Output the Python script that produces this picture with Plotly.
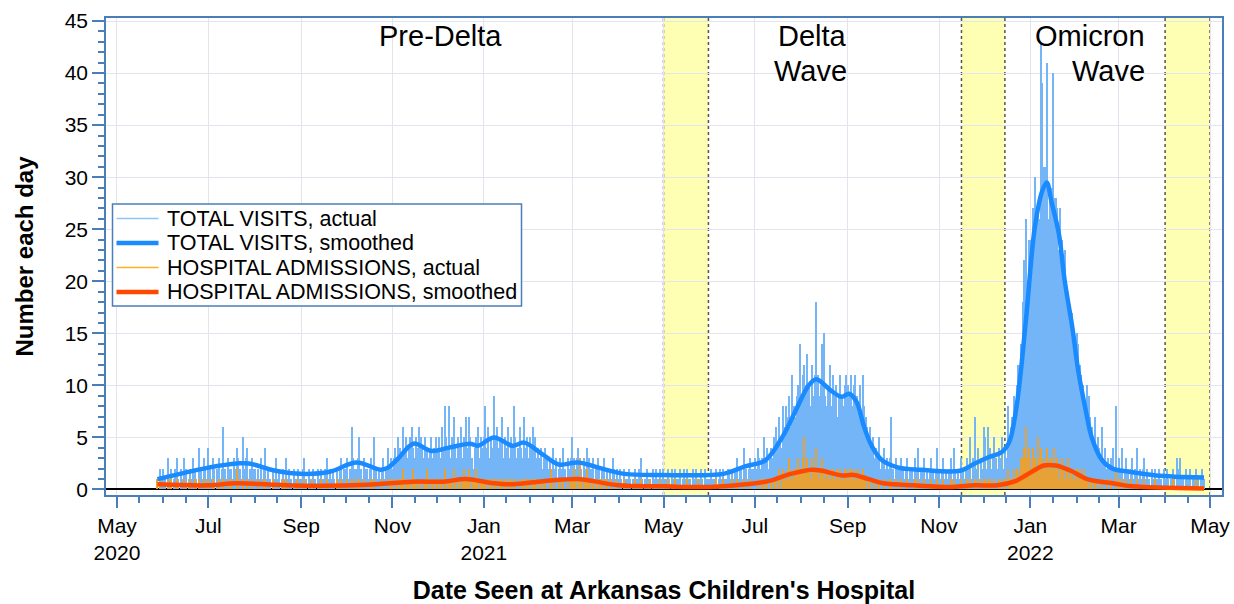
import pandas as pd
import plotly.graph_objects as go

# ---------------- data (daily counts) ----------------
visits_2020 = [
    1, 0, 2, 1,  # May 28-31
    2, 1, 0, 3, 1, 2, 0, 1, 2, 3, 1, 0, 2, 1, 3, 2, 0, 1, 2, 1, 3, 2, 1, 0, 4, 2, 1, 3, 2, 1,  # Jun
    4, 2, 1, 3, 2, 0, 2, 3, 1, 2, 6, 2, 1, 3, 2, 2, 1, 3, 2, 4, 3, 2, 1, 5, 2, 3, 4, 1, 2, 3, 2,  # Jul
    2, 1, 2, 1, 3, 1, 2, 4, 1, 2, 1, 0, 2, 1, 3, 1, 2, 0, 1, 2, 1, 3, 1, 2, 1, 0, 2, 1, 1, 2, 1,  # Aug
    1, 2, 3, 1, 0, 2, 1, 1, 2, 1, 0, 2, 1, 2, 1, 1, 2, 3, 1, 2, 1, 2, 1, 0, 2, 1, 2, 3, 1, 2,  # Sep
    2, 3, 1, 2, 6, 3, 2, 2, 3, 5, 2, 1, 3, 2, 2, 1, 2, 3, 1, 5, 2, 1, 2, 1, 2, 3, 1, 2, 4, 2, 3,  # Oct
    2, 3, 4, 3, 5, 4, 3, 6, 4, 5, 3, 4, 5, 6, 4, 3, 5, 4, 6, 5, 4, 3, 5, 4, 3, 4, 5, 3, 4, 5,  # Nov
    4, 5, 3, 6, 4, 8, 5, 4, 8, 3, 5, 7, 4, 3, 5, 4, 6, 3, 5, 7, 4, 7, 5, 3, 2, 4, 5, 6, 3, 5, 4,  # Dec
]
admits_2020 = [
    1, 0, 1, 0,
    0, 0, 0, 1, 0, 1, 0, 0, 0, 1, 0, 0, 0, 0, 1, 0, 0, 0, 1, 0, 0, 1, 0, 0, 1, 0, 0, 1, 0, 0,
    1, 0, 0, 1, 0, 0, 0, 1, 0, 0, 1, 0, 0, 1, 0, 1, 0, 0, 0, 2, 1, 0, 0, 1, 0, 0, 1, 0, 0, 1, 0,
    0, 0, 1, 0, 0, 0, 1, 1, 0, 0, 0, 0, 1, 0, 0, 0, 0, 0, 0, 1, 0, 1, 0, 0, 0, 0, 0, 0, 1, 0, 0,
    0, 0, 1, 0, 0, 0, 0, 1, 0, 0, 0, 0, 0, 1, 0, 0, 0, 1, 0, 0, 0, 0, 0, 0, 1, 0, 0, 1, 0, 0,
    0, 1, 0, 0, 1, 0, 0, 1, 0, 1, 0, 0, 1, 0, 0, 0, 0, 1, 0, 1, 0, 0, 0, 0, 1, 0, 0, 0, 1, 0, 1,
    0, 1, 0, 1, 1, 0, 1, 2, 1, 0, 1, 1, 0, 1, 2, 1, 0, 1, 1, 0, 1, 0, 1, 2, 0, 1, 0, 1, 1, 0,
    1, 0, 1, 1, 0, 2, 1, 0, 1, 1, 0, 2, 1, 0, 1, 1, 0, 1, 2, 1, 1, 2, 1, 0, 1, 1, 2, 1, 0, 1, 1,
]
visits_2021 = [
    5, 8, 4, 6, 3, 5, 4, 9, 5, 6, 4, 5, 7, 3, 5, 4, 6, 3, 5, 4, 8, 5, 3, 4, 6, 4, 3, 7, 4, 5, 3,  # Jan
    5, 4, 6, 5, 3, 4, 3, 4, 2, 3, 4, 3, 2, 3, 2, 4, 2, 3, 1, 2, 3, 2, 4, 2, 1, 3, 2, 3,  # Feb
    5, 3, 2, 3, 4, 3, 2, 1, 3, 2, 4, 3, 2, 2, 3, 1, 2, 3, 2, 1, 2, 3, 1, 2, 1, 2, 1, 3, 2, 1, 2,  # Mar
    1, 2, 1, 0, 2, 1, 1, 2, 1, 0, 1, 2, 1, 1, 2, 3, 1, 0, 1, 2, 1, 1, 0, 2, 1, 2, 1, 1, 2, 1,  # Apr
    2, 1, 1, 2, 1, 0, 2, 1, 2, 1, 1, 2, 0, 1, 2, 1, 2, 1, 1, 0, 2, 1, 2, 1, 1, 2, 1, 0, 2, 1, 1,  # May
    1, 2, 1, 1, 2, 0, 1, 2, 1, 2, 1, 1, 2, 2, 1, 2, 1, 2, 3, 1, 2, 2, 1, 4, 2, 1, 2, 3, 2, 2,  # Jun
    3, 2, 4, 3, 2, 3, 5, 3, 4, 2, 3, 4, 3, 5, 6, 4, 7, 5, 4, 8, 6, 8, 7, 9, 6, 11, 8, 7, 9, 10, 14,  # Jul
    9, 11, 12, 10, 13, 10, 8, 12, 9, 11, 18, 11, 9, 10, 14, 15, 9, 8, 10, 12, 8, 11, 9, 10, 7, 9, 11, 9, 8, 10, 11,  # Aug
    10, 9, 11, 8, 10, 11, 9, 8, 10, 7, 11, 8, 7, 6, 5, 6, 4, 5, 3, 4, 3, 5, 2, 3, 4, 2, 3, 2, 3, 7,  # Sep
    2, 1, 3, 2, 2, 1, 3, 2, 1, 2, 3, 1, 2, 2, 1, 3, 2, 4, 1, 2, 2, 3, 1, 2, 1, 2, 3, 2, 1, 2, 4,  # Oct
    2, 1, 2, 3, 1, 2, 1, 2, 3, 1, 4, 2, 1, 2, 1, 3, 2, 1, 2, 3, 2, 5, 1, 3, 7, 2, 4, 1, 3, 2,  # Nov
    6, 5, 2, 6, 4, 2, 3, 5, 3, 2, 4, 3, 5, 2, 4, 3, 8, 5, 6, 7, 9, 8, 10, 12, 11, 14, 18, 22, 26, 20, 24,  # Dec
]
admits_2021 = [
    1, 1, 0, 1, 0, 1, 0, 1, 1, 0, 0, 1, 1, 0, 1, 0, 1, 0, 1, 0, 1, 1, 0, 0, 1, 0, 1, 1, 0, 1, 0,
    1, 0, 1, 1, 0, 1, 0, 1, 0, 1, 1, 0, 0, 1, 2, 0, 1, 0, 0, 1, 0, 1, 1, 0, 0, 1, 0, 1,
    1, 2, 1, 0, 1, 3, 1, 0, 1, 1, 2, 1, 0, 1, 1, 0, 1, 1, 0, 1, 0, 1, 0, 1, 0, 0, 1, 0, 0, 1, 0,
    0, 0, 0, 0, 1, 0, 0, 0, 0, 0, 0, 1, 0, 0, 0, 1, 0, 0, 0, 0, 0, 1, 0, 0, 0, 0, 0, 0, 1, 0,
    0, 0, 0, 1, 0, 0, 0, 0, 1, 0, 0, 0, 0, 0, 0, 0, 1, 0, 0, 0, 0, 0, 0, 1, 0, 0, 0, 0, 0, 0, 0,
    0, 0, 0, 0, 1, 0, 0, 0, 0, 1, 0, 0, 0, 0, 0, 1, 0, 0, 1, 0, 0, 0, 0, 1, 0, 0, 0, 1, 0, 0,
    0, 0, 1, 0, 0, 1, 1, 0, 1, 0, 0, 1, 0, 1, 1, 0, 2, 1, 0, 2, 1, 1, 2, 3, 1, 2, 1, 2, 2, 3, 2,
    2, 3, 5, 2, 3, 2, 1, 3, 2, 2, 4, 2, 1, 2, 3, 2, 1, 2, 1, 2, 1, 2, 1, 1, 2, 1, 2, 1, 1, 2, 1,
    2, 1, 2, 1, 2, 1, 1, 2, 1, 1, 2, 1, 1, 0, 1, 0, 1, 0, 0, 1, 0, 1, 0, 0, 1, 0, 0, 0, 1, 1,
    0, 0, 1, 0, 0, 0, 1, 0, 0, 0, 1, 0, 0, 0, 0, 1, 0, 1, 0, 0, 0, 1, 0, 0, 0, 0, 1, 0, 0, 0, 1,
    0, 0, 0, 1, 0, 0, 0, 0, 1, 0, 1, 0, 0, 0, 0, 1, 0, 0, 0, 1, 0, 1, 0, 0, 1, 0, 1, 0, 0, 1,
    0, 1, 0, 1, 1, 0, 0, 1, 0, 0, 1, 0, 1, 0, 1, 0, 2, 1, 1, 1, 2, 1, 2, 2, 1, 3, 3, 4, 6, 3, 4,
]
visits_2022 = [
    24, 21, 27, 30, 27, 27, 26, 43, 39, 31, 31, 41, 26, 29, 29, 40, 28, 28, 27, 23,
    27, 24, 21, 23, 20, 19, 18, 16, 17, 14, 13,  # Jan
    15, 14, 12, 11, 10, 9, 8, 10, 9, 7, 6, 5, 7, 4, 5, 4, 3, 6, 3, 4, 2, 3, 2, 3, 4, 2, 8, 2,  # Feb
    3, 2, 4, 1, 2, 3, 2, 1, 2, 3, 1, 2, 4, 1, 2, 1, 2, 3, 1, 2, 1, 0, 2, 1, 2, 1, 1, 2, 1, 0, 2,  # Mar
    1, 2, 1, 0, 1, 2, 1, 0, 3, 2, 3, 1, 1, 0, 2, 1, 1, 2, 0, 1, 1, 2, 1, 0, 1, 2, 1,  # Apr 1-27
]
admits_2022 = [
    3, 2, 4, 3, 2, 5, 3, 4, 2, 3, 2, 4, 3, 2, 3, 2, 4, 2, 3, 1, 2, 3, 2, 1, 2, 3, 1, 2, 1, 2, 1,
    2, 1, 2, 1, 1, 2, 1, 1, 0, 1, 1, 0, 1, 0, 1, 0, 0, 1, 0, 0, 1, 0, 0, 1, 0, 0, 2, 0,
    1, 0, 1, 0, 0, 1, 0, 0, 1, 0, 0, 0, 1, 0, 0, 0, 0, 1, 0, 0, 0, 0, 0, 0, 1, 0, 0, 0, 0, 0, 0,
    0, 0, 0, 0, 0, 1, 0, 0, 0, 0, 0, 0, 0, 0, 0, 0, 0, 0, 0, 0, 0, 1, 0, 0, 0, 0, 0,
]

# smoothed curves (read at selected dates)
visits_smooth_dates = [
    "2020-05-28", "2020-06-15", "2020-07-01", "2020-07-20", "2020-07-28", "2020-08-15",
    "2020-09-01", "2020-09-20", "2020-10-08", "2020-10-24", "2020-10-29", "2020-11-05",
    "2020-11-15", "2020-11-27", "2020-12-08", "2020-12-23", "2020-12-28", "2021-01-08",
    "2021-01-20", "2021-01-28", "2021-02-09", "2021-02-20", "2021-03-05", "2021-03-21",
    "2021-04-05", "2021-05-01", "2021-06-10", "2021-06-24", "2021-07-08", "2021-07-20",
    "2021-07-28", "2021-08-06", "2021-08-11", "2021-08-20", "2021-08-28", "2021-09-02",
    "2021-09-07", "2021-09-12", "2021-09-17", "2021-09-24", "2021-10-05", "2021-10-20",
    "2021-11-15", "2021-11-25", "2021-12-04", "2021-12-13", "2021-12-18", "2021-12-23",
    "2021-12-29", "2022-01-04", "2022-01-09", "2022-01-12", "2022-01-15", "2022-01-20",
    "2022-01-24", "2022-01-29", "2022-02-02", "2022-02-07", "2022-02-11", "2022-02-18",
    "2022-02-25", "2022-03-08", "2022-03-26", "2022-04-27",
]
visits_smooth = [
    1.0, 1.6, 2.1, 2.5, 2.5, 1.8,
    1.5, 1.7, 2.6, 1.9, 2.1, 3.0,
    4.4, 3.7, 4.0, 4.4, 4.2, 5.0,
    4.2, 4.5, 3.4, 2.4, 2.6, 2.0,
    1.5, 1.4, 1.5, 2.2, 2.8, 5.2,
    7.5, 10.0, 10.6, 9.6, 8.9, 9.2,
    8.4, 6.0, 4.2, 2.8, 2.1, 1.9,
    1.8, 2.5, 3.1, 3.6, 4.6, 8.2,
    16.2, 25.2, 28.7, 29.5, 27.7, 24.6,
    20.0, 15.6, 11.4, 7.6, 5.0, 2.8,
    2.0, 1.7, 1.35, 1.15,
]
admits_smooth_dates = [
    "2020-05-28", "2020-07-01", "2020-07-20", "2020-08-15", "2020-09-15", "2020-10-15",
    "2020-11-15", "2020-12-05", "2020-12-20", "2021-01-05", "2021-01-20", "2021-02-10",
    "2021-03-05", "2021-03-15", "2021-04-01", "2021-05-01", "2021-06-01", "2021-06-25",
    "2021-07-10", "2021-07-25", "2021-08-08", "2021-08-15", "2021-08-28", "2021-09-05",
    "2021-09-15", "2021-09-25", "2021-10-15", "2021-11-10", "2021-11-25", "2021-12-10",
    "2021-12-22", "2022-01-02", "2022-01-10", "2022-01-18", "2022-01-28", "2022-02-08",
    "2022-02-25", "2022-03-10", "2022-04-27",
]
admits_smooth = [
    0.5, 0.4, 0.6, 0.45, 0.35, 0.45,
    0.75, 0.75, 1.0, 0.65, 0.5, 0.8,
    1.0, 0.8, 0.4, 0.3, 0.25, 0.5,
    0.8, 1.5, 1.9, 1.8, 1.35, 1.4,
    1.0, 0.6, 0.4, 0.25, 0.4, 0.4,
    0.8, 1.7, 2.3, 2.3, 1.8, 1.0,
    0.6, 0.3, 0.1,
]

# shaded periods between waves
band_starts = ["2021-05-01", "2021-11-16", "2022-04-01"]
band_ends = ["2021-05-31", "2021-12-15", "2022-05-01"]

tick_dates = ["2020-05-01", "2020-07-01", "2020-09-01", "2020-11-01", "2021-01-01", "2021-03-01",
              "2021-05-01", "2021-07-01", "2021-09-01", "2021-11-01", "2022-01-01", "2022-03-01",
              "2022-05-01"]
tick_labels = ["May<br>2020", "Jul", "Sep", "Nov", "Jan<br>2021", "Mar", "May", "Jul", "Sep", "Nov",
               "Jan<br>2022", "Mar", "May"]

legend_names = ["TOTAL VISITS, actual", "TOTAL VISITS, smoothed",
                "HOSPITAL ADMISSIONS, actual", "HOSPITAL ADMISSIONS, smoothed"]

# ---------------- build ----------------
dates = (list(pd.date_range("2020-05-28", periods=len(visits_2020), freq="D"))
         + list(pd.date_range("2021-01-01", periods=len(visits_2021), freq="D"))
         + list(pd.date_range("2022-01-01", periods=len(visits_2022), freq="D")))
visits = visits_2020 + visits_2021 + visits_2022
admits = admits_2020 + admits_2021 + admits_2022
adates = (list(pd.date_range("2020-05-28", periods=len(admits_2020), freq="D"))
          + list(pd.date_range("2021-01-01", periods=len(admits_2021), freq="D"))
          + list(pd.date_range("2022-01-01", periods=len(admits_2022), freq="D")))

FONT = "Liberation Sans, Arial, sans-serif"
AXIS = "#4a7ebb"
BLUE_BAR = "#74b5f8"
BLUE_LINE = "#1a8aff"
ORANGE_BAR = "#e6a236"
ORANGE_LINE = "#ff4800"
DAY = 86400000

# plot-area geometry in pixels (for the hand-made legend box)
W, H = 1234, 604
ML, MR, MT, MB = 106, 12, 18, 109
PW, PH = W - ML - MR, H - MT - MB


def px(x):
    return (x - ML) / PW


def py(y):
    return (H - MB - y) / PH


fig = go.Figure()
fig.add_trace(go.Bar(x=dates, y=visits, width=DAY * 0.78, marker=dict(color=BLUE_BAR, line=dict(width=0)),
                     name=legend_names[0], showlegend=False))
fig.add_trace(go.Bar(x=adates, y=admits, width=DAY * 0.78, marker=dict(color=ORANGE_BAR, line=dict(width=0)),
                     name=legend_names[2], showlegend=False))
fig.add_trace(go.Scatter(x=pd.to_datetime(visits_smooth_dates), y=visits_smooth, mode="lines",
                         line=dict(color=BLUE_LINE, width=4.5, shape="spline", smoothing=1.0),
                         name=legend_names[1], showlegend=False))
fig.add_trace(go.Scatter(x=pd.to_datetime(admits_smooth_dates), y=admits_smooth, mode="lines",
                         line=dict(color=ORANGE_LINE, width=4.5, shape="spline", smoothing=1.0),
                         name=legend_names[3], showlegend=False))

shapes = []
for s, e in zip(band_starts, band_ends):
    shapes.append(dict(type="rect", xref="x", yref="paper", x0=s, x1=e, y0=0, y1=1,
                       fillcolor="#ffffb4", line=dict(width=0), layer="below"))
    for xv in (s, e):
        shapes.append(dict(type="line", xref="x", yref="paper", x0=xv, x1=xv, y0=0, y1=1,
                           line=dict(color="#555555", width=1.5, dash="dot"), layer="below"))

ann_font = dict(family=FONT, size=29, color="black")
annotations = [
    dict(x="2020-12-03", y=43.6, text="Pre-Delta", xanchor="center", yanchor="middle"),
    dict(x="2021-09-02", y=43.6, text="Delta", xanchor="right", yanchor="middle"),
    dict(x="2021-09-02", y=40.2, text="Wave", xanchor="right", yanchor="middle"),
    dict(x="2022-03-20", y=43.6, text="Omicron", xanchor="right", yanchor="middle"),
    dict(x="2022-03-20", y=40.2, text="Wave", xanchor="right", yanchor="middle"),
]
for a in annotations:
    a.update(xref="x", yref="y", showarrow=False, font=ann_font)

# legend box (drawn with shapes + text so the row spacing matches)
shapes.append(dict(type="rect", xref="paper", yref="paper", x0=px(112.5), x1=px(521.5), y0=py(204), y1=py(306),
                   fillcolor="white", line=dict(color=AXIS, width=1.5), layer="above"))
leg_colors = ["#8cc6f7", BLUE_LINE, "#ffb020", ORANGE_LINE]
leg_widths = [1.5, 4.5, 1.5, 4.5]
leg_rows = [218.5, 243, 267.5, 292]
for name, col, lw, ry in zip(legend_names, leg_colors, leg_widths, leg_rows):
    shapes.append(dict(type="line", xref="paper", yref="paper", x0=px(116.5), x1=px(158.5),
                       y0=py(ry), y1=py(ry), line=dict(color=col, width=lw), layer="above"))
    annotations.append(dict(xref="paper", yref="paper", x=px(165), y=py(ry), text=name,
                            xanchor="left", yanchor="middle", showarrow=False,
                            font=dict(family=FONT, size=21.5, color="black")))

minor_ticks = []
for m in pd.date_range("2020-04-01", "2022-05-01", freq="MS"):
    minor_ticks.append(m)
    minor_ticks.append(m + pd.Timedelta(days=15))

fig.update_layout(
    width=W, height=H, autosize=False,
    margin=dict(l=ML, r=MR, t=MT, b=MB),
    paper_bgcolor="white", plot_bgcolor="white",
    barmode="overlay", bargap=0,
    font=dict(family=FONT, size=21, color="black"),
    shapes=shapes, annotations=annotations,
    showlegend=False,
    xaxis=dict(
        type="date", range=["2020-04-23 16:00", "2022-05-09"], automargin=False,
        tickmode="array", tickvals=tick_dates, ticktext=tick_labels,
        ticks="outside", ticklen=11, tickwidth=1.5, tickcolor=AXIS,
        showline=True, linecolor=AXIS, linewidth=1.5, mirror=True,
        showgrid=True, gridcolor="#e4e4ee", gridwidth=1,
        minor=dict(tickmode="array", tickvals=minor_ticks, ticks="outside", ticklen=6,
                   tickwidth=1.5, tickcolor=AXIS, showgrid=False),
        tickfont=dict(family=FONT, size=21),
        title=dict(text="<b>Date Seen at Arkansas Children's Hospital</b>",
                   font=dict(family=FONT, size=25), standoff=22),
        zeroline=False,
    ),
    yaxis=dict(
        range=[-0.53, 45.29], tickmode="linear", tick0=0, dtick=5, automargin=False,
        ticks="outside", ticklen=12, tickwidth=1.5, tickcolor=AXIS,
        showline=True, linecolor=AXIS, linewidth=1.5, mirror=True,
        showgrid=True, gridcolor="#e4e4ee", gridwidth=1,
        zeroline=True, zerolinecolor="black", zerolinewidth=1.5,
        minor=dict(dtick=1, ticks="outside", ticklen=6, tickwidth=1.5, tickcolor=AXIS, showgrid=False),
        tickfont=dict(family=FONT, size=21),
        title=dict(text="<b>Number each day</b>", font=dict(family=FONT, size=24), standoff=24),
    ),
)

fig.write_html("out.html", config={"displayModeBar": False},
               post_script="document.body.style.margin='0';")
